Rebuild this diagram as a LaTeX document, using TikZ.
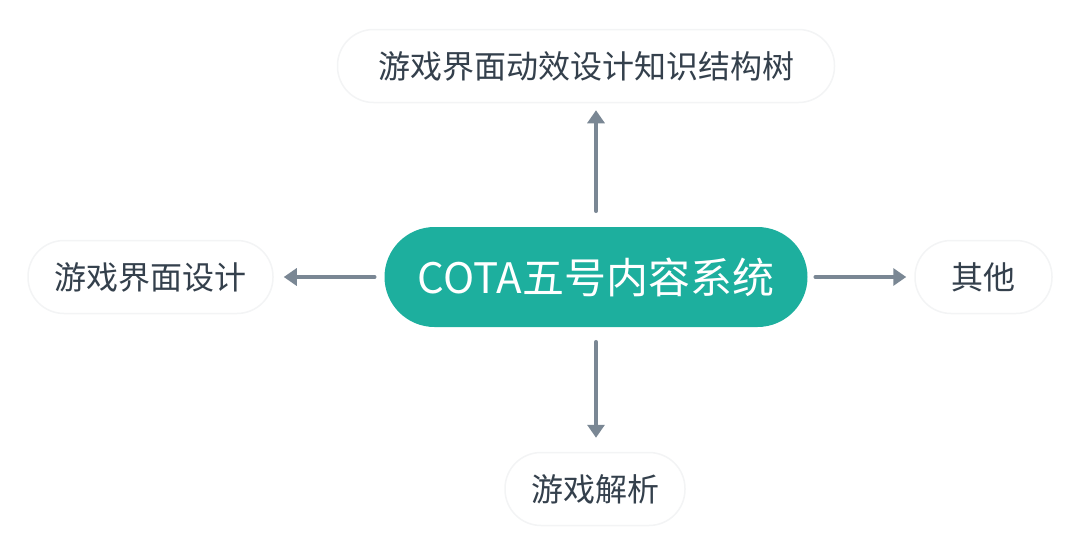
\documentclass[tikz,border=0pt]{standalone}
\usepackage{fontspec}
\setmainfont{Noto Sans CJK SC}
\usetikzlibrary{arrows.meta}
\definecolor{teal1}{HTML}{1DAF9E}
\definecolor{txt}{HTML}{34404C}
\definecolor{arr}{HTML}{7A8794}
\definecolor{edge}{HTML}{F3F4F5}
\tikzset{
  leaf/.style={draw=edge, line width=1.5pt, fill=white, rounded corners=36pt,
    minimum height=73pt, inner sep=0pt, text=txt, font=\fontsize{32}{36}\selectfont},
  hub/.style={fill=teal1, rounded corners=50pt, minimum width=423pt, minimum height=100pt,
    inner sep=0pt, text=white, font=\fontsize{42}{48}\selectfont},
  conn/.style={draw=arr, line width=4.5pt, line cap=round,
    -{Triangle[length=13pt,width=17pt]}}
}
\begin{document}
\begin{tikzpicture}[x=1pt,y=-1pt]
\useasboundingbox (0,0) rectangle (1080,554);
\node[hub] (c) at (596,277) {COTA五号内容系统};
\node[leaf, minimum width=497pt] (t) at (586,66) {游戏界面动效设计知识结构树};
\node[leaf, minimum width=245pt] (l) at (150.5,277) {游戏界面设计};
\node[leaf, minimum width=137pt] (r) at (983.5,277) {其他};
\node[leaf, minimum width=180pt] (b) at (595,489) {游戏解析};
\draw[conn, shorten <=16pt, shorten >=7pt] (c.north) -- (c.north |- t.south);
\draw[conn, shorten <=15pt, shorten >=14pt] (c.south) -- (c.south |- b.north);
\draw[conn, shorten <=10pt, shorten >=10pt] (c.west) -- (l.east);
\draw[conn, shorten <=8pt, shorten >=8pt] (c.east) -- (r.west);
\end{tikzpicture}
\end{document}
